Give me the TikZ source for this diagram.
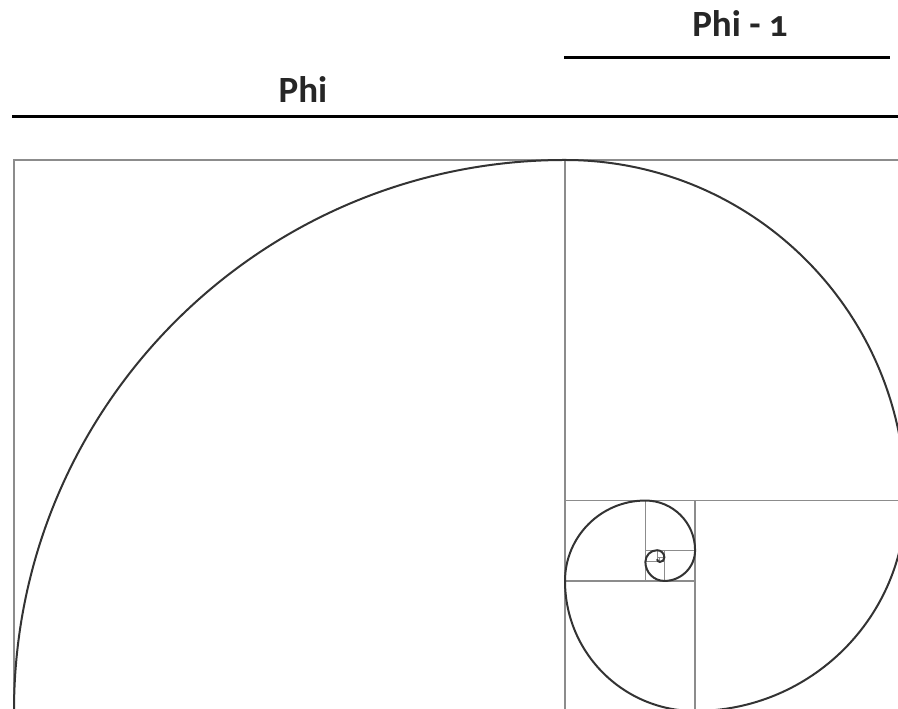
\documentclass[tikz,border=0pt]{standalone}
\usepackage{fontspec}
\setmainfont{Carlito}[Numbers=OldStyle]
\begin{document}
\begin{tikzpicture}[x=1pt,y=1pt,
  gridline/.style={draw=black!45,line width=1.4pt},
  spiral/.style={draw=black!80,line width=2pt},
  bar/.style={draw=black,line width=3pt},
  lbl/.style={font=\bfseries\fontsize{37}{40}\selectfont,text=black!85,anchor=base,inner sep=0pt}]
\useasboundingbox (0,0) rectangle (898,709);
\clip (0,0) rectangle (898,709);
% labels and bars
\node[lbl] (phione) at (740,672) {Phi - 1};
\node[lbl] (phi) at (303,606) {Phi};
\coordinate (b1l) at (564,651.7); \coordinate (b1r) at (890,651.7);
\coordinate (b2l) at (12,592); \coordinate (b2r) at (900,592);
\draw[bar] (b1l) -- (b1r);
\draw[bar] (b2l) -- (b2r);
% frame and squares
\draw[gridline] (14,-5) -- (14,549) -- (910,549);
\draw[gridline] (565,549) -- (565,-5);
\draw[gridline] (565,208.46) -- (910,208.46);
\draw[gridline] (695.08,208.46) -- (695.08,-5);
\draw[gridline] (565,128.07) -- (695.08,128.07);
\draw[gridline] (645.39,208.46) -- (645.39,128.07);
\draw[gridline] (645.39,158.78) -- (695.08,158.78);
\draw[gridline] (664.37,158.78) -- (664.37,128.07);
\draw[gridline,line width=1pt] (645.39,147.05) -- (664.37,147.05);
\draw[gridline,line width=1pt] (657.12,158.78) -- (657.12,147.05);
\draw[gridline,line width=0.8pt] (657.12,151.53) -- (664.37,151.53);
\draw[gridline,line width=0.8pt] (659.89,151.53) -- (659.89,147.05);
% spiral
\draw[spiral] (14,-2)
  arc[start angle=180, end angle=90, radius=551pt]
  arc[start angle=90, end angle=0, radius=340.54pt]
  arc[start angle=0, end angle=-90, radius=210.46pt]
  arc[start angle=-90, end angle=-180, radius=130.07pt]
  arc[start angle=180, end angle=90, radius=80.39pt]
  arc[start angle=90, end angle=0, radius=49.68pt]
  arc[start angle=0, end angle=-90, radius=30.71pt]
  arc[start angle=-90, end angle=-180, radius=18.98pt]
  arc[start angle=180, end angle=90, radius=11.73pt]
  arc[start angle=90, end angle=0, radius=7.25pt]
  arc[start angle=0, end angle=-90, radius=4.48pt]
  arc[start angle=-90, end angle=-180, radius=2.77pt];
\end{tikzpicture}
\end{document}
